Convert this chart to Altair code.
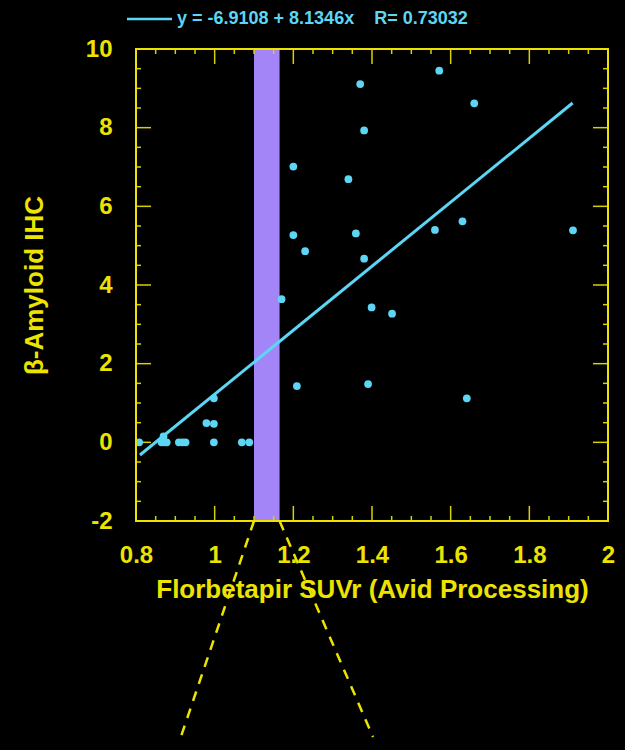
import altair as alt
import pandas as pd

# ---- data ----
suvr = [0.808, 0.865, 0.870, 0.872, 0.878, 0.909, 0.918, 0.926, 0.979, 0.998,
        0.998, 0.998, 1.069, 1.088, 1.170, 1.200, 1.200, 1.209, 1.230, 1.340,
        1.359, 1.370, 1.380, 1.380, 1.390, 1.399, 1.451, 1.560, 1.571, 1.630,
        1.641, 1.660, 1.911]
ihc = [0.0, 0.0, 0.15, 0.0, 0.0, 0.0, 0.0, 0.0, 0.49, 0.47,
       1.12, 0.0, 0.0, 0.0, 3.64, 7.01, 5.27, 1.43, 4.86, 6.69,
       5.31, 9.11, 7.93, 4.67, 1.48, 3.43, 3.27, 5.40, 9.45, 5.62,
       1.12, 8.62, 5.39]

fit_x = [0.81, 1.91]
fit_y = [-0.322, 8.627]
legend_text = "y = -6.9108 + 8.1346x\u00a0\u00a0\u00a0 R= 0.73032"

band_start = [1.10]
band_end = [1.165]

# zoom (dashed) lines: start on band edges at the bottom of the plot, end below
zoom_x1 = [1.10, 1.165]
zoom_y1 = [-2.0, -2.0]
zoom_x2 = [0.914, 1.4026]
zoom_y2 = [-7.49, -7.49]

x_major = [0.8, 1.0, 1.2, 1.4, 1.6, 1.8, 2.0]
x_minor = [0.85, 0.9, 0.95, 1.05, 1.1, 1.15, 1.25, 1.3, 1.35, 1.45, 1.5, 1.55,
           1.65, 1.7, 1.75, 1.85, 1.9, 1.95]
y_major = [-2, 0, 2, 4, 6, 8, 10]
y_minor = [-1.5, -1, -0.5, 0.5, 1, 1.5, 2.5, 3, 3.5, 4.5, 5, 5.5, 6.5, 7, 7.5,
           8.5, 9, 9.5]

# ---- styling ----
W, H = 472, 472
YEL = "#ece400"
TICKC = "#d8d000"
CYAN = "#5cd6f4"
PURPLE = "#a385f8"
FONT = "Liberation Sans"

xs = alt.Scale(domain=[0.8, 2.0], nice=False, zero=False)
ys = alt.Scale(domain=[-2, 10], nice=False, zero=False)

pts = pd.DataFrame({"x": suvr, "y": ihc})
fit = pd.DataFrame({"x": fit_x, "y": fit_y})
band = pd.DataFrame({"x": band_start, "x2": band_end})
zoom = pd.DataFrame({"x": zoom_x1, "y": zoom_y1, "x2": zoom_x2, "y2": zoom_y2})

xmaj = pd.DataFrame({"v": x_major})
xmin = pd.DataFrame({"v": x_minor})
ymaj = pd.DataFrame({"v": y_major})
ymin = pd.DataFrame({"v": y_minor})

x_axis = alt.Axis(values=x_major, labelExpr="'' + datum.value", labelFlush=False,
                  title="Florbetapir SUVr (Avid Processing)",
                  ticks=False, domain=False, grid=False, labelPadding=22,
                  labelFontSize=24, labelFont=FONT, labelFontWeight="bold", labelColor=YEL,
                  titleFontSize=26, titleFont=FONT, titleFontWeight="bold", titleColor=YEL,
                  titlePadding=9)
y_axis = alt.Axis(values=y_major, labelExpr="'' + datum.value", labelFlush=False,
                  title="β-Amyloid IHC",
                  ticks=False, domain=False, grid=False, labelPadding=24,
                  labelFontSize=24, labelFont=FONT, labelFontWeight="bold", labelColor=YEL,
                  titleFontSize=26, titleFont=FONT, titleFontWeight="bold", titleColor=YEL,
                  titlePadding=38)

band_layer = alt.Chart(band).mark_rect(color=PURPLE, opacity=1).encode(
    x=alt.X("x:Q", scale=xs, axis=x_axis), x2="x2:Q",
    y=alt.value(0), y2=alt.value(H))

zoom_layer = alt.Chart(zoom).mark_rule(color=YEL, strokeWidth=2.5, strokeDash=[10, 8],
                                       clip=False).encode(
    x=alt.X("x:Q", scale=xs), y=alt.Y("y:Q", scale=ys, axis=y_axis),
    x2="x2:Q", y2="y2:Q")

def xticks(df, length):
    bottom = alt.Chart(df).mark_rule(color=TICKC, strokeWidth=1.5).encode(
        x=alt.X("v:Q", scale=xs), y=alt.value(H), y2=alt.value(H - length))
    top = alt.Chart(df).mark_rule(color=TICKC, strokeWidth=1.5).encode(
        x=alt.X("v:Q", scale=xs), y=alt.value(0), y2=alt.value(length))
    return [bottom, top]

def yticks(df, length):
    left = alt.Chart(df).mark_rule(color=TICKC, strokeWidth=1.5).encode(
        y=alt.Y("v:Q", scale=ys), x=alt.value(0), x2=alt.value(length))
    right = alt.Chart(df).mark_rule(color=TICKC, strokeWidth=1.5).encode(
        y=alt.Y("v:Q", scale=ys), x=alt.value(W), x2=alt.value(W - length))
    return [left, right]

tick_layers = xticks(xmaj, 15) + xticks(xmin, 5) + yticks(ymaj, 15) + yticks(ymin, 5)

fit_layer = alt.Chart(fit).mark_line(color=CYAN, strokeWidth=3).encode(
    x=alt.X("x:Q", scale=xs), y=alt.Y("y:Q", scale=ys))

pt_layer = alt.Chart(pts).mark_circle(color=CYAN, size=60, opacity=1).encode(
    x=alt.X("x:Q", scale=xs), y=alt.Y("y:Q", scale=ys))

leg = pd.DataFrame({"t": [legend_text]})
leg_line = alt.Chart(leg).mark_rule(color=CYAN, strokeWidth=2.5).encode(
    x=alt.value(-9), x2=alt.value(36), y=alt.value(-30))
leg_text = alt.Chart(leg).mark_text(color=CYAN, font=FONT, fontWeight="bold", fontSize=18,
                                    align="left", baseline="alphabetic").encode(
    x=alt.value(41), y=alt.value(-25), text="t:N")

frame = alt.Chart(leg).mark_rect(filled=False, stroke=YEL, strokeWidth=2).encode(
    x=alt.value(0), x2=alt.value(W), y=alt.value(0), y2=alt.value(H))

chart = alt.layer(band_layer, zoom_layer, *tick_layers, fit_layer, pt_layer,
                  frame, leg_line, leg_text).properties(
    width=W, height=H,
    padding={"left": 136, "top": 49, "right": 17, "bottom": 229},
    autosize=alt.AutoSizeParams(type="none"),
    background="black",
).configure_view(stroke=None)

chart.save("out.html", embed_options={"renderer": "svg", "actions": False})
